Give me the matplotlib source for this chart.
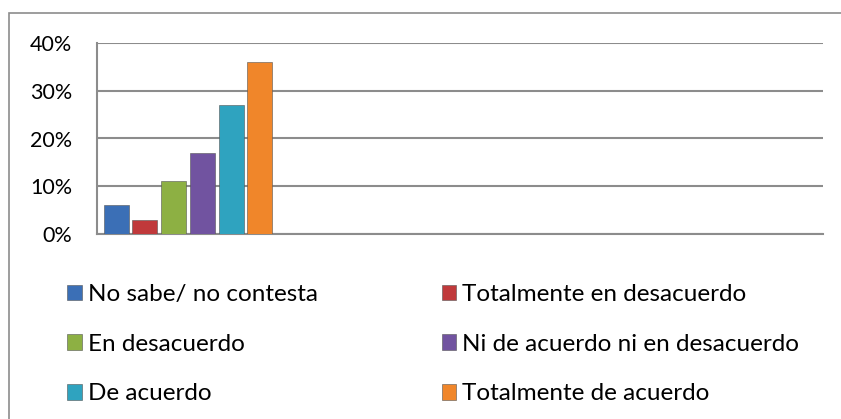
import matplotlib.pyplot as plt
import matplotlib.patches as mpatches
from matplotlib.ticker import PercentFormatter

categories = ["No sabe/ no contesta", "Totalmente en desacuerdo", "En desacuerdo",
              "Ni de acuerdo ni en desacuerdo", "De acuerdo", "Totalmente de acuerdo"]
values = [6, 3, 11, 17, 27, 36]
colors = ["#3b6fb6", "#c0393b", "#8db043", "#7153a0", "#2fa3bf", "#f0862a"]
y_ticks = [0, 10, 20, 30, 40]

plt.rcParams['font.family'] = ['Lato', 'DejaVu Sans']

fig = plt.figure(figsize=(8.41, 4.19), dpi=100)
ax = fig.add_axes([97 / 841, 1 - 234 / 419, (823 - 97) / 841, (234 - 43) / 419])

bars = []
for i, (cat, val, col) in enumerate(zip(categories, values, colors)):
    b = ax.bar(i, val, width=0.87, color=col, edgecolor="#555555", linewidth=0.4,
               label=cat, zorder=3)
    bars.append(b)

ax.set_ylim(0, 40)
ax.set_xlim(-0.67, 24.6)
ax.set_yticks(y_ticks)
ax.yaxis.set_major_formatter(PercentFormatter(decimals=0))
ax.set_xticks([])
ax.tick_params(axis="y", length=0, labelsize=15.5, pad=18)
ax.yaxis.grid(True, color="#8c8c8c", linewidth=1.5, zorder=0)
for side in ["top", "right"]:
    ax.spines[side].set_visible(False)
for side in ["left", "bottom"]:
    ax.spines[side].set_color("#8c8c8c")
    ax.spines[side].set_linewidth(1.5)

# outer chart border (only top and left visible in the crop)
fig.patches.append(mpatches.Rectangle((9 / 841, -0.2), 1.5, 1.2 - 13 / 419,
                                      transform=fig.transFigure, fill=False,
                                      edgecolor="#8c8c8c", linewidth=1.2))

order = [0, 2, 4, 1, 3, 5]
fig.legend([bars[i] for i in order], [categories[i] for i in order],
           ncol=2, loc="upper left", bbox_to_anchor=(67 / 841, 1 - 284 / 419),
           frameon=False, fontsize=17.5, handlelength=0.6, handleheight=0.6,
           handletextpad=0.25, labelspacing=1.18, columnspacing=5.1,
           borderpad=0, borderaxespad=0)

fig.savefig("out.png", dpi=100)
